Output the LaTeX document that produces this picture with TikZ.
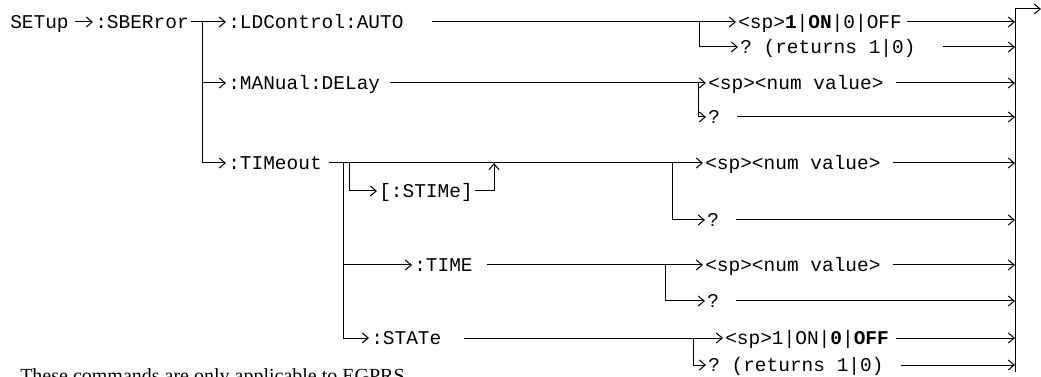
\documentclass[tikz,border=0pt]{standalone}
\usepackage{fontspec}
\setmainfont{Liberation Serif}
\setmonofont{Liberation Mono}
\usetikzlibrary{arrows.meta}
\tikzset{
  cmd/.style={anchor=west,font=\ttfamily\fontsize{14.6}{16}\selectfont,inner xsep=1.5pt,inner ysep=0pt,text height=9.6pt,text depth=0pt},
  wire/.style={line width=0.75pt},
  feed/.style={wire,-{Straight Barb[length=4.5pt,width=7.5pt]}},
}

\begin{document}
\begin{tikzpicture}[x=0.75pt,y=-0.75pt]
  \useasboundingbox (0,0) rectangle (1041,377);
  % root and first level
  \node[cmd] (setup) at (8,22) {SETup};
  \node[cmd] (sber) at (93,22) {:SBERror};
  \node[cmd] (ldc) at (226,22) {:LDControl:AUTO};
  \node[cmd] (man) at (226,83) {:MANual:DELay};
  \node[cmd] (tim) at (226,163) {:TIMeout};
  \node[cmd] (stime) at (377,191) {[:STIMe]};
  \node[cmd] (time) at (412,265) {:TIME};
  \node[cmd] (state) at (369,338) {:STATe};
  % parameters
  \node[cmd] (on1) at (736,22) {<sp>\textbf{1}|\textbf{ON}|0|OFF};
  \node[cmd] (q1) at (738,47) {? (returns 1|0)};
  \node[cmd] (num1) at (706,83) {<sp><num value>};
  \node[cmd] (q2) at (706,117) {?};
  \node[cmd] (num2) at (703,163) {<sp><num value>};
  \node[cmd] (q3) at (705,220) {?};
  \node[cmd] (num3) at (703,265) {<sp><num value>};
  \node[cmd] (q4) at (705,301) {?};
  \node[cmd] (on2) at (723,338) {<sp>1|ON|\textbf{0}|\textbf{OFF}};
  \node[cmd] (q5) at (706,365) {? (returns 1|0)};
  \node[anchor=base west,font=\fontsize{15}{18}\selectfont,inner sep=0pt] (note) at (20,382) {These commands are only applicable to EGPRS.};
  % junctions
  \coordinate (j1) at (202,22);
  \coordinate (j2) at (699,22);
  \coordinate (j3) at (698,83);
  \coordinate (j4) at (343,163);
  \coordinate (j5) at (349,163);
  \coordinate (j6) at (494,163);
  \coordinate (j7) at (672,163);
  \coordinate (j8) at (665,265);
  \coordinate (j9) at (693,338);
  \coordinate (bustop) at (1015,9);
  \coordinate (busend) at (1015,372);
  \coordinate (exit) at (1041,9);
  % SETup:SBERror
  \draw[feed] (setup.east) ++(4,0) -- (sber.west);
  \draw[feed] (sber.east) -- (ldc.west);
  \draw[feed] (j1 |- man.west) -- (man.west);
  \draw[feed] (j1) |- (tim.west);
  % LDControl and MANual
  \draw[feed] (ldc.east) ++(26,0) -- (on1.west);
  \draw[feed] (j2) |- (q1.west);
  \draw[feed] (man.east) ++(8,0) -- (num1.west);
  \draw[feed] (j3) |- (q2.west);
  % TIMeout
  \draw[feed] (tim.east) ++(5,0) -- (num2.west);
  \draw[feed] (j5) |- (stime.west);
  \draw[feed] (stime.east) -| (j6);
  \draw[feed] (j7) |- (q3.west);
  \draw[feed] (j4) |- (state.west);
  \draw[feed] (j4 |- time.west) -- (time.west);
  \draw[feed] (time.east) ++(12,0) -- (num3.west);
  \draw[feed] (j8) |- (q4.west);
  \draw[feed] (state.east) ++(20,0) -- (on2.west);
  \draw[feed] (j9) |- (q5.west);
  % end bus
  \draw[wire] (busend) -- (bustop);
  \draw[feed] (bustop) -- (exit);
  \foreach \n/\g in {on1/3,q1/25,num1/10,q2/15,num2/10,q3/15,num3/10,q4/15,on2/5,q5/15}
    \draw[feed] (\n.east) ++(\g,0) -- (\n.east -| bustop);
\end{tikzpicture}
\end{document}
